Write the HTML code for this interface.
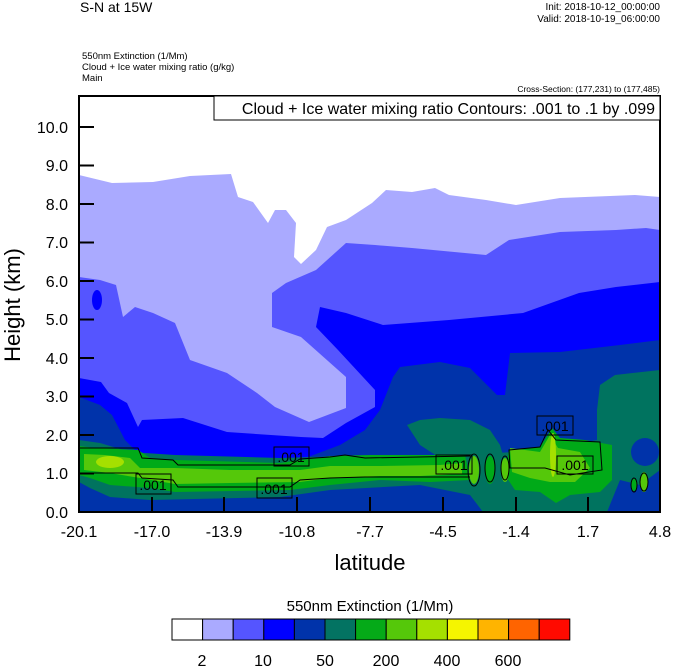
<!DOCTYPE html><html><head><style>body{margin:0;background:#fff}svg{display:block}</style></head><body>
<svg width="674" height="668" xmlns="http://www.w3.org/2000/svg" font-family="Liberation Sans, sans-serif">
<defs><clipPath id="c"><rect x="79" y="96" width="581" height="416"/></clipPath></defs>
<g clip-path="url(#c)">
<rect x="79" y="96" width="581" height="416" fill="#fff"/>
<polygon fill="#aaaaff" points="79,175 112,183 153,182 190,176 231,174 238,197 253,202 268,223 275,210 286,210 296,223 294,257 301,264 316,250 327,227 346,220 372,203 386,190 412,192 435,188 449,195 486,200 516,205 560,198 635,195 660,197 660,512 79,512"/>
<polygon fill="#5555ff" points="79,277 100,280 116,285 123,317 135,307 153,313 175,323 190,360 227,373 257,393 275,407 309,422 346,408 346,377 301,337 272,327 272,293 286,283 316,270 346,243 375,245 412,248 486,255 509,240 560,232 616,230 646,228 660,230 660,512 79,512"/>
<polygon fill="#0000ff" points="79,378 101,382 109,393 127,403 138,427 142,420 183,418 227,432 301,437 323,438 346,423 375,407 375,390 338,350 316,327 320,307 346,313 383,325 449,320 523,313 579,293 616,287 660,282 660,512 79,512"/>
<ellipse cx="97" cy="300" rx="5" ry="10" fill="#0000ff"/>
<polygon fill="#0033aa" points="79,397 100,405 112,415 125,440 140,455 300,460 340,445 365,430 380,410 393,377 400,367 440,362 470,368 497,395 505,395 510,353 560,352 620,345 660,340 660,512 79,512"/>
<polygon fill="#00735f" points="407,425 420,420 440,418 470,420 490,430 500,445 505,462 470,462 440,458 420,445"/>
<polygon fill="#00735f" points="597,410 600,385 615,375 660,370 660,470 640,485 620,480 607,512 483,512 470,495 420,485 330,490 280,497 150,500 110,497 90,488 79,482 79,440 100,443 130,452 175,455 280,458 380,455 470,455 540,450 597,440"/>
<ellipse cx="645" cy="452" rx="14" ry="14" fill="#0033aa"/>
<polygon fill="#00aa18" points="79,446 95,448 138,450 150,458 175,460 280,463 330,456 370,455 440,455 465,455 470,480 430,482 380,480 330,485 290,490 175,492 150,488 110,485 90,478 79,475"/>
<polygon fill="#55c80a" points="84,454 105,455 130,458 140,468 175,468 230,470 300,470 330,466 380,466 440,465 462,463 462,474 420,476 380,476 330,478 300,482 230,483 175,484 140,478 110,473 84,470"/>
<polygon fill="#00aa18" points="509,450 540,447 552,428 560,438 585,440 612,445 612,480 600,492 570,495 556,503 540,492 515,490 505,475"/>
<polygon fill="#55c80a" points="510,448 540,452 550,435 558,448 580,452 590,468 575,482 550,482 530,478 512,472"/>
<ellipse cx="110" cy="462" rx="14" ry="6" fill="#a5e000"/>
<ellipse cx="553" cy="455" rx="3" ry="22" fill="#a5e000"/>
<ellipse cx="474" cy="470" rx="5" ry="14" fill="#55c80a"/>
<ellipse cx="490" cy="470" rx="5" ry="14" fill="#00aa18"/>
<ellipse cx="505" cy="470" rx="4" ry="12" fill="#55c80a"/>
<ellipse cx="644" cy="482" rx="4" ry="10" fill="#55c80a"/>
<ellipse cx="634" cy="485" rx="3" ry="6" fill="#00aa18"/>
<g fill="none" stroke="#000" stroke-width="1">
<path d="M79,448 L138,448 L142,458 L173,460 L178,465 L290,465 L300,459 L330,457 L345,455 L365,458 L470,456"/>
<path d="M79,473 L138,473 L142,478 L173,480 L178,487 L290,487 L300,480 L330,478 L365,477 L470,477"/>
<path d="M509,450 L540,447 L548,430 L556,440 L600,442 L602,470 L570,475 L545,468 L510,468 Z"/>
<ellipse cx="474" cy="470" rx="6" ry="16"/><ellipse cx="490" cy="468" rx="5" ry="14"/><ellipse cx="505" cy="468" rx="4" ry="12"/>
<ellipse cx="644" cy="482" rx="4" ry="9"/><ellipse cx="634" cy="485" rx="3" ry="7"/>
</g>
<g font-size="14" text-anchor="middle">
<rect x="274" y="447" width="35" height="19" fill="none" stroke="#000"/><text x="291" y="462">.001</text>
<rect x="136" y="474" width="35" height="20" fill="none" stroke="#000"/><text x="153" y="490">.001</text>
<rect x="257" y="478" width="35" height="20" fill="none" stroke="#000"/><text x="274" y="494">.001</text>
<rect x="436" y="455" width="36" height="19" fill="none" stroke="#000"/><text x="454" y="470">.001</text>
<rect x="537" y="416" width="36" height="19" fill="none" stroke="#000"/><text x="555" y="431">.001</text>
<rect x="557" y="456" width="36" height="18" fill="none" stroke="#000"/><text x="575" y="470">.001</text>
</g>
</g>
<rect x="79" y="96" width="581" height="416" fill="none" stroke="#000" stroke-width="2"/>
<rect x="214" y="96" width="446" height="24" fill="#fff" stroke="#000" stroke-width="1"/>
<text x="655" y="114" font-size="16" text-anchor="end">Cloud + Ice water mixing ratio Contours: .001 to .1 by .099</text>
<g stroke="#000" stroke-width="2">
<line x1="79" y1="127" x2="94" y2="127"/><line x1="79" y1="165.5" x2="94" y2="165.5"/><line x1="79" y1="204" x2="94" y2="204"/><line x1="79" y1="242.5" x2="94" y2="242.5"/><line x1="79" y1="281" x2="94" y2="281"/><line x1="79" y1="319.5" x2="94" y2="319.5"/><line x1="79" y1="358" x2="94" y2="358"/><line x1="79" y1="396.5" x2="94" y2="396.5"/><line x1="79" y1="435" x2="94" y2="435"/><line x1="79" y1="473.5" x2="94" y2="473.5"/>
<line x1="152" y1="512" x2="152" y2="497"/><line x1="224" y1="512" x2="224" y2="497"/><line x1="297" y1="512" x2="297" y2="497"/><line x1="370" y1="512" x2="370" y2="497"/><line x1="443" y1="512" x2="443" y2="497"/><line x1="516" y1="512" x2="516" y2="497"/><line x1="588" y1="512" x2="588" y2="497"/>
</g>
<g font-size="16" text-anchor="end">
<text x="68" y="133">10.0</text><text x="68" y="171">9.0</text><text x="68" y="210">8.0</text><text x="68" y="248">7.0</text><text x="68" y="287">6.0</text><text x="68" y="325">5.0</text><text x="68" y="364">4.0</text><text x="68" y="402">3.0</text><text x="68" y="441">2.0</text><text x="68" y="479">1.0</text><text x="68" y="518">0.0</text>
</g>
<g font-size="16" text-anchor="middle">
<text x="79" y="537">-20.1</text><text x="152" y="537">-17.0</text><text x="224" y="537">-13.9</text><text x="297" y="537">-10.8</text><text x="370" y="537">-7.7</text><text x="443" y="537">-4.5</text><text x="516" y="537">-1.4</text><text x="588" y="537">1.7</text><text x="660" y="537">4.8</text>
</g>
<text x="370" y="570" font-size="22" text-anchor="middle">latitude</text>
<text transform="translate(20,305) rotate(-90)" font-size="22" text-anchor="middle">Height (km)</text>
<text x="80" y="12" font-size="14">S-N at 15W</text>
<text x="660" y="10" font-size="10" text-anchor="end">Init: 2018-10-12_00:00:00</text>
<text x="660" y="22" font-size="10" text-anchor="end">Valid: 2018-10-19_06:00:00</text>
<text x="82" y="59" font-size="9.5">550nm Extinction   (1/Mm)</text>
<text x="82" y="70" font-size="9.5">Cloud + Ice water mixing ratio   (g/kg)</text>
<text x="82" y="81" font-size="9.5">Main</text>
<text x="660" y="92" font-size="8.5" text-anchor="end">Cross-Section: (177,231) to (177,485)</text>
<text x="370" y="611" font-size="15" text-anchor="middle">550nm Extinction  (1/Mm)</text>
<g stroke="#000" stroke-width="1">
<rect x="172" y="619" width="30.6" height="21" fill="#fff"/><rect x="202.6" y="619" width="30.6" height="21" fill="#aaaaff"/><rect x="233.2" y="619" width="30.6" height="21" fill="#5555ff"/><rect x="263.8" y="619" width="30.6" height="21" fill="#0000ff"/><rect x="294.4" y="619" width="30.6" height="21" fill="#0033aa"/><rect x="325" y="619" width="30.6" height="21" fill="#037362"/><rect x="355.6" y="619" width="30.6" height="21" fill="#05aa18"/><rect x="386.2" y="619" width="30.6" height="21" fill="#55c80a"/><rect x="416.8" y="619" width="30.6" height="21" fill="#a5e000"/><rect x="447.4" y="619" width="30.6" height="21" fill="#f5f500"/><rect x="478" y="619" width="30.6" height="21" fill="#ffb400"/><rect x="508.6" y="619" width="30.6" height="21" fill="#ff6400"/><rect x="539.2" y="619" width="30.6" height="21" fill="#ff0a00"/>
</g>
<g font-size="16" text-anchor="middle">
<text x="202" y="666">2</text><text x="263" y="666">10</text><text x="325" y="666">50</text><text x="386" y="666">200</text><text x="447" y="666">400</text><text x="508" y="666">600</text>
</g>
</svg></body></html>
